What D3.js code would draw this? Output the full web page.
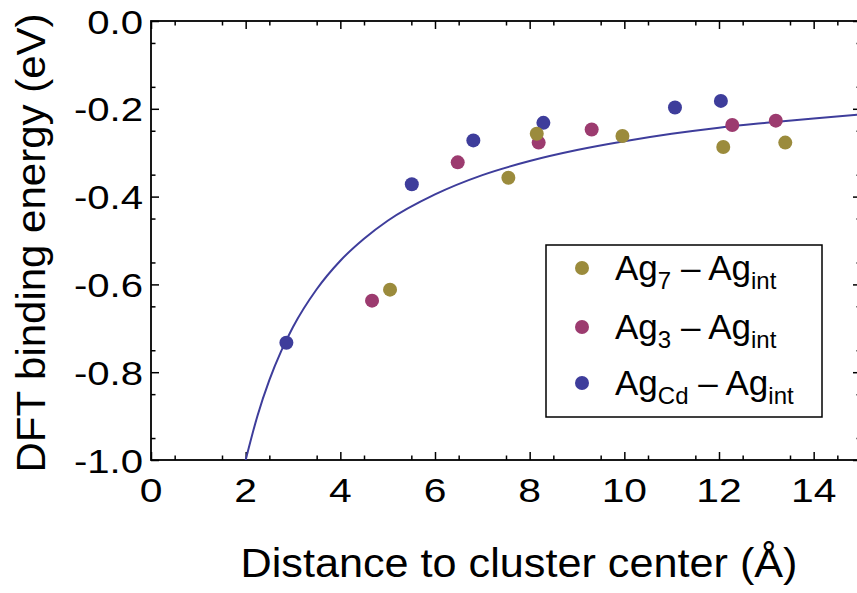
<!DOCTYPE html>
<html>
<head>
<meta charset="utf-8">
<script src="https://cdn.jsdelivr.net/npm/d3@7"></script>
<style>
  body { margin: 0; background: #fff; }
  svg { display: block; }
  text { font-family: "Liberation Sans", Arial, Helvetica, sans-serif; fill: #000; }
</style>
</head>
<body>
<div id="chart"></div>
<script>
// binding energies (x in Angstrom, y in eV)
const ag7X = [5.05, 7.55, 8.15, 9.96, 12.09, 13.4];
const ag7Y = [-0.612, -0.357, -0.257, -0.262, -0.287, -0.277];
const ag3X = [4.67, 6.48, 8.19, 9.31, 12.28, 13.2];
const ag3Y = [-0.637, -0.322, -0.277, -0.247, -0.237, -0.227];
const agCdX = [2.86, 5.51, 6.81, 8.29, 11.07, 12.04];
const agCdY = [-0.733, -0.372, -0.272, -0.232, -0.197, -0.182];

// the fitted curve
const fitX = [2, 2.25, 2.5, 2.75, 3, 3.5, 4, 4.5, 5, 6, 7, 8, 9, 10, 11, 12, 13, 14, 15];
const fitY = [-1.0, -0.899, -0.818, -0.752, -0.697, -0.611, -0.546, -0.496, -0.455,
              -0.395, -0.351, -0.319, -0.294, -0.274, -0.257, -0.243, -0.232, -0.222, -0.213];

const xTicks = [0, 2, 4, 6, 8, 10, 12, 14];
const xTickLabels = ["0", "2", "4", "6", "8", "10", "12", "14"];
const yTicks = [-1.0, -0.8, -0.6, -0.4, -0.2, 0.0];
const yTickLabels = ["-1.0", "-0.8", "-0.6", "-0.4", "-0.2", "0.0"];

const seriesBase = ["Ag", "Ag", "Ag"];
const seriesSub = ["7", "3", "Cd"];
const seriesColor = ["#9b8b3c", "#9c3b6f", "#3e3d9b"];

const width = 857, height = 593;
const plot = { left: 151, top: 21, right: 861, bottom: 460 };

const x = d3.scaleLinear().domain([0, 15]).range([plot.left, plot.right]);
const y = d3.scaleLinear().domain([-1, 0]).range([plot.bottom, plot.top]);

const svg = d3.select("#chart").append("svg")
    .attr("width", width)
    .attr("height", height);

svg.append("clipPath").attr("id", "clip")
  .append("rect")
    .attr("x", plot.left).attr("y", plot.top)
    .attr("width", plot.right - plot.left)
    .attr("height", plot.bottom - plot.top);

// minor ticks every 0.5 / 0.05
const xMinor = d3.range(0.5, 15, 1);
const yMinor = d3.range(-0.95, 0, 0.1);

function tickAxis(axis, pos, major, minor) {
    const g = svg.append("g").attr("transform", pos);
    g.append("g").call(axis.tickValues(major).tickSize(-8).tickFormat(""));
    g.append("g").call(axis.tickValues(minor).tickSize(-4.5).tickFormat(""));
    g.selectAll(".domain").remove();
    g.selectAll("line").attr("stroke", "#000").attr("stroke-width", 1.5);
}
tickAxis(d3.axisBottom(x), `translate(0,${plot.bottom})`, xTicks, xMinor);
tickAxis(d3.axisTop(x), `translate(0,${plot.top})`, xTicks, xMinor);
tickAxis(d3.axisLeft(y), `translate(${plot.left},0)`, yTicks, yMinor);
tickAxis(d3.axisRight(y), `translate(${plot.right},0)`, yTicks, yMinor);

svg.append("rect")
    .attr("x", plot.left).attr("y", plot.top)
    .attr("width", plot.right - plot.left)
    .attr("height", plot.bottom - plot.top)
    .attr("fill", "none")
    .attr("stroke", "#000")
    .attr("stroke-width", 1.8);

// text drawn a bit wider than the font, like the original
function wideText(tx, ty, str, size, sx, anchor, rot) {
    const g = svg.append("g")
        .attr("transform", `translate(${tx},${ty})` + (rot ? ` rotate(${rot})` : "") + ` scale(${sx},1)`);
    return g.append("text")
        .attr("text-anchor", anchor)
        .attr("font-size", size)
        .text(str);
}

xTicks.forEach((v, i) => wideText(x(v), 502, xTickLabels[i], 34, 1.2, "middle"));
yTicks.forEach((v, i) => wideText(143, y(v) + 12.5, yTickLabels[i], 34, 1.18, "end"));

wideText(519, 577, "Distance to cluster center (\u00c5)", 40, 1.08, "middle");
wideText(45, 243, "DFT binding energy (eV)", 40, 1.05, "middle", -90);

// fit line
const line = d3.line()
    .x((d, i) => x(fitX[i]))
    .y((d, i) => y(fitY[i]))
    .curve(d3.curveMonotoneX);

svg.append("path")
    .datum(fitX)
    .attr("clip-path", "url(#clip)")
    .attr("d", line)
    .attr("fill", "none")
    .attr("stroke", seriesColor[2])
    .attr("stroke-width", 2);

// points: AgCd first, Ag7 last (on top)
const series = [
    { xs: agCdX, ys: agCdY, c: seriesColor[2] },
    { xs: ag3X, ys: ag3Y, c: seriesColor[1] },
    { xs: ag7X, ys: ag7Y, c: seriesColor[0] }
];
series.forEach(s => {
    svg.append("g").attr("clip-path", "url(#clip)")
      .selectAll("circle")
      .data(s.xs)
      .enter()
      .append("circle")
        .attr("cx", d => x(d))
        .attr("cy", (d, i) => y(s.ys[i]))
        .attr("r", 7)
        .attr("fill", s.c);
});

// legend
const legend = svg.append("g");
legend.append("rect")
    .attr("x", 546).attr("y", 245)
    .attr("width", 276).attr("height", 172)
    .attr("fill", "#fff")
    .attr("stroke", "#000")
    .attr("stroke-width", 1.5);

const rowY = [268, 327, 383];
seriesSub.forEach((sub, i) => {
    legend.append("circle")
        .attr("cx", 582).attr("cy", rowY[i])
        .attr("r", 7)
        .attr("fill", seriesColor[i]);
    const t = legend.append("text")
        .attr("x", 615).attr("y", rowY[i] + 12)
        .attr("font-size", 35);
    t.append("tspan").text(seriesBase[i]);
    t.append("tspan").attr("font-size", 24).attr("dy", 9).text(sub);
    t.append("tspan").attr("dy", -9).text(" \u2013 Ag");
    t.append("tspan").attr("font-size", 24).attr("dy", 9).text("int");
});
</script>
</body>
</html>
